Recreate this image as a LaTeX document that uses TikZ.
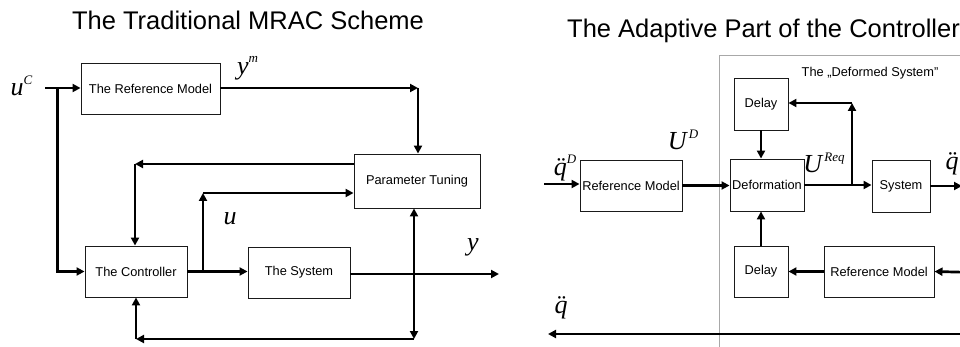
\documentclass[tikz,border=0pt]{standalone}
\usepackage{fontspec}
\setmainfont{Liberation Sans}
\newfontfamily\sigfont{Liberation Serif}
\usepackage{xcolor}
\usepackage{tikz}
\usetikzlibrary{arrows.meta, positioning, calc}
\definecolor{MR_LINE}{HTML}{1a1a1a}
\definecolor{MR_FRAME}{HTML}{a8a8a8}
\newcommand{\signame}[2]{{\sigfont\itshape #1\raisebox{0.45em}{\fontsize{13}{13}\selectfont #2}}}
\tikzset{
  blk/.style={
    rectangle, draw=MR_LINE, line width=0.9pt, inner sep=0pt,
    text centered, align=center, font=\fontsize{12.8}{14}\selectfont},
  arr/.style={-{Triangle[length=8pt,width=8pt]}, line width=2.7pt, color=black},
  darr/.style={{Triangle[length=8pt,width=8pt]}-{Triangle[length=8pt,width=8pt]}, line width=2.7pt, color=black},
  sig/.style={inner sep=0pt, font=\fontsize{26}{26}\selectfont},
  ttl/.style={inner sep=0pt, font=\fontsize{25.5}{28}\selectfont},
}

\begin{document}
\begin{tikzpicture}[x=1pt, y=-1pt]
  \path[use as bounding box, clip] (0,0) rectangle (960,347);

  % the traditional MRAC scheme
  \node[ttl, anchor=base] (ttlL) at (248,30) {The Traditional MRAC Scheme};

  \node[blk, minimum width=139pt, minimum height=51pt] (refL) at (150.5,88.5)
    {The Reference Model};
  \node[blk, minimum width=102pt, minimum height=51pt] (ctrl) at (136,271.5)
    {The Controller};
  \node[blk, minimum width=102pt, minimum height=51pt] (sysL) at (299,272.5)
    {The System};
  \node[blk, minimum width=126pt, minimum height=54pt] (tune) at (417,181)
    {Parameter Tuning};

  \node[sig] (uc) at (21.5,86)  {\signame{u}{C}};
  \node[sig] (ym) at (247.5,68) {\signame{y}{m}};
  \node[sig] (uu) at (230,219)  {\signame{u}{}};
  \node[sig] (yy) at (473,247)  {\signame{y}{}};

  \coordinate (uin)  at (45,88);
  \coordinate (br1)  at (57.5,88);
  \coordinate (c1)   at (418,88);
  \coordinate (c2)   at (135,164);
  \coordinate (c3)   at (203,193);
  \coordinate (yout) at (499,274);
  \coordinate (c4)   at (414,339);

  \draw[arr] (uin) -- (uin -| refL.west);
  \draw[arr] (br1) |- (ctrl.west);
  \draw[arr] (refL.east |- c1) -- (c1);
  \draw[arr] (c1) -- (c1 |- tune.north);
  \draw[arr] (c2 -| tune.west) -- (c2);
  \draw[arr] (c2) -- (c2 |- ctrl.north);
  \draw[arr] (ctrl.east) -- (ctrl.east -| sysL.west);
  \draw[arr] (ctrl.east -| c3) -- (c3);
  \draw[arr] (c3) -- (c3 -| tune.west);
  \draw[arr] (sysL.east |- yout) -- (yout);
  \draw[darr] (c4 |- tune.south) -- (c4);
  \draw[arr] (c4) -- (ctrl.south |- c4);
  \draw[arr] (ctrl.south |- c4) -- (ctrl.south);

  % the adaptive part of the controller
  \node[ttl, anchor=base west] (ttlR) at (567,38) {The Adaptive Part of the Controller};

  \draw[MR_FRAME, line width=0.9pt] (719,420) -- (719,55) -- (1100,55);
  \node[inner sep=0pt, font=\fontsize{12.8}{14}\selectfont] (dsys) at (870,73)
    {The „Deformed System”};

  \node[blk, minimum width=102pt, minimum height=51pt] (refR) at (631,185.5)
    {Reference Model};
  \node[blk, minimum width=74pt, minimum height=52pt] (deform) at (767,185)
    {Deformation};
  \node[blk, minimum width=58pt, minimum height=52pt] (sysR) at (901,186)
    {System};
  \node[blk, minimum width=54pt, minimum height=52pt] (delayT) at (761,104)
    {Delay};
  \node[blk, minimum width=54pt, minimum height=51pt] (delayB) at (761,271.5)
    {Delay};
  \node[blk, minimum width=110pt, minimum height=51pt] (refR2) at (879,271.5)
    {Reference Model};

  \node[sig] (qd)   at (565,168) {\signame{\"q}{D}};
  \node[sig] (ud)   at (683,140) {\signame{U}{\,D}};
  \node[sig] (ureq) at (824,163) {\signame{U}{\,Req}};
  \node[sig] (qout) at (952,164) {\signame{\"q}{}};
  \node[sig] (qfb)  at (561,308) {\signame{\"q}{}};

  \coordinate (qin) at (544,184);
  \coordinate (c5)  at (852,103);
  \coordinate (rin) at (975,272.5);
  \coordinate (qr)  at (962,188);
  \coordinate (fbr) at (975,334);
  \coordinate (fbl) at (548,334);

  \draw[arr] (qin) -- (qin -| refR.west);
  \draw[arr] (refR.east) -- (refR.east -| deform.west);
  \draw[arr] (deform.east) -- (deform.east -| sysR.west);
  \draw[arr] (deform.east -| c5) -- (c5);
  \draw[arr] (c5) -- (c5 -| delayT.east);
  \draw[arr] (delayT.south) -- (delayT.south |- deform.north);
  \draw[arr] (delayB.north) -- (delayB.north |- deform.south);
  \draw[arr] (refR2.west) -- (delayB.east);
  \draw[arr] (rin) -- (refR2.east);
  \draw[arr] (sysR.east) -- (sysR.east -| qr);
  \draw[arr] (fbr) -- (fbl);

\end{tikzpicture}
\end{document}
